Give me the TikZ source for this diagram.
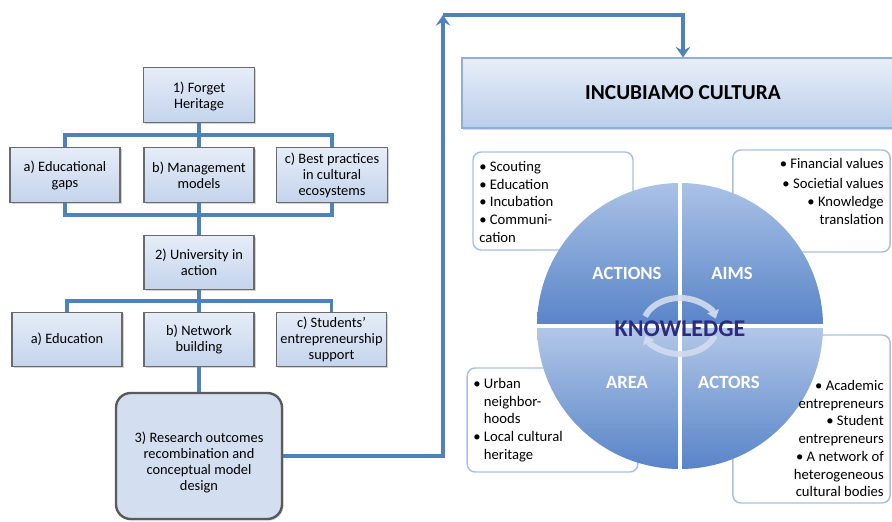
\documentclass[tikz,border=0pt]{standalone}
\usepackage{fontspec}
\setmainfont{Carlito}
\usetikzlibrary{shadows,arrows.meta}
\definecolor{conn}{HTML}{4F81BD}
\definecolor{boxtop}{HTML}{E6EDF8}
\definecolor{boxbot}{HTML}{C4D4EC}
\definecolor{boxborder}{HTML}{6A6A6A}
\definecolor{bigbox}{HTML}{D3DFF1}
\definecolor{inctop}{HTML}{E8EEF8}
\definecolor{incbot}{HTML}{BACEEA}
\definecolor{incborder}{HTML}{8FAEDA}
\definecolor{pietop}{HTML}{AAC2E6}
\definecolor{piebot}{HTML}{5884C8}
\definecolor{sideborder}{HTML}{A9C0E3}
\definecolor{knowcol}{HTML}{2E2B7F}
\definecolor{ringcol}{HTML}{D2DCEE}
\tikzset{
  conn/.style={draw=conn, line width=2.6pt},
  tipend/.style={-{Stealth[width=11pt,length=8pt,inset=3pt]}},
  fbox/.style={draw=boxborder, line width=0.9pt, top color=boxtop, bottom color=boxbot,
    align=center, inner sep=1pt, minimum width=82.5pt, minimum height=41.5pt,
    font=\fontsize{10.8}{12}\selectfont,
    drop shadow={shadow xshift=1.2pt,shadow yshift=-1.2pt,opacity=0.35}},
  sidebox/.style={draw=sideborder, line width=1.1pt, fill=white, rounded corners=6pt, inner sep=0pt},
  sidetext/.style={inner sep=0pt, font=\fontsize{11}{13.3}\selectfont},
  pielabel/.style={text=white, font=\fontsize{14}{16}\selectfont\bfseries, inner sep=0pt},
  ring/.style={draw=ringcol, line width=4.5pt, opacity=0.9, -{Triangle[width=9pt,length=6pt]}},
}
\begin{document}
\begin{tikzpicture}[x=0.75pt,y=-0.75pt]
\useasboundingbox (0,0) rectangle (892,521);

% ---------- left tree ----------
\node[fbox, minimum width=83pt, minimum height=41pt] (b1) at (199,95) {\rule{0pt}{10pt}1) Forget\\Heritage};
\node[fbox] (r1a) at (65,175) {a) Educational\\gaps};
\node[fbox] (r1b) at (199,175) {b) Management\\models};
\node[fbox, minimum width=83pt] (r1c) at (332,175) {c) Best practices\\in cultural\\ecosystems};
\node[fbox, minimum height=41pt] (b2) at (199,262.5) {2) University in\\action};
\node[fbox, minimum height=41pt] (r2a) at (67,339.5) {a) Education};
\node[fbox, minimum height=41pt] (r2b) at (199,339.5) {b) Network\\building};
\node[fbox, minimum width=83pt, minimum height=41pt] (r2c) at (331.5,339.5) {c) Students’\\entrepreneurship\\support};
\node[draw=boxborder!85!black, line width=1.8pt, fill=bigbox, rounded corners=11pt,
      minimum width=124.5pt, minimum height=94.5pt, align=center, inner sep=1pt,
      font=\fontsize{10.8}{12}\selectfont,
      drop shadow={shadow xshift=1.2pt,shadow yshift=-1.2pt,opacity=0.3}] (b3) at (199,456)
      {\rule{0pt}{17pt}3) Research outcomes\\recombination and\\conceptual model\\design};

\coordinate (j1) at (199,135);
\coordinate (j2) at (199,215);
\coordinate (j3) at (199,301);
\draw[conn] (b1.south) -- (j1);
\draw[conn] (r1a.north) |- (j1) -| (r1c.north);
\draw[conn] (j1) -- (r1b.north);
\draw[conn] (r1a.south) |- (j2) -| (r1c.south);
\draw[conn] (r1b.south) -- (b2.north);
\draw[conn] (b2.south) -- (r2b.north);
\draw[conn] (r2a.north) |- (j3) -| (r2c.north);
\draw[conn] (r2b.south) -- (b3.north);

% ---------- Incubiamo ----------
\node[draw=incborder, line width=0.8pt, top color=inctop, bottom color=incbot,
      minimum width=331.5pt, minimum height=52.5pt, inner sep=0pt,
      font=\fontsize{16}{18}\selectfont\bfseries,
      drop shadow={shadow xshift=1pt,shadow yshift=-1.2pt,opacity=0.3}] (inc) at (683,93) {INCUBIAMO CULTURA};

\coordinate (up) at (443,15);
\draw[conn, tipend] (b3.east) -| (up);
\draw[conn, tipend] (up) -| (inc.north);

% ---------- side boxes ----------
\node[sidebox, minimum width=120pt, minimum height=73.5pt] (actbox) at (553,201) {};
\node[sidebox, minimum width=118pt, minimum height=76.5pt] (aimbox) at (811.5,201) {};
\node[sidebox, minimum width=128pt, minimum height=78pt] (areabox) at (552.5,420) {};
\node[sidebox, minimum width=118pt, minimum height=126pt] (actorbox) at (811.5,419) {};

% ---------- pie ----------
\coordinate (C) at (680,326);
\shade[top color=pietop, bottom color=piebot] (C) -- ++(180:143) arc[start angle=180, end angle=270, radius=143] -- cycle;
\shade[top color=pietop, bottom color=piebot] (C) -- ++(270:143) arc[start angle=270, end angle=360, radius=143] -- cycle;
\shade[top color=pietop!90!white, bottom color=piebot] (C) -- ++(0:143) arc[start angle=0, end angle=90, radius=143] -- cycle;
\shade[top color=pietop!90!white, bottom color=piebot] (C) -- ++(90:143) arc[start angle=90, end angle=180, radius=143] -- cycle;
\draw[white, line width=3.5pt] (C) ++(-144,0) -- ++(288,0);
\draw[white, line width=3.5pt] (C) ++(0,-144) -- ++(0,288);

\draw[ring] (C) ++(200:37 and 28) arc[start angle=200, end angle=345, x radius=37, y radius=28];
\draw[ring] (C) ++(20:37 and 28) arc[start angle=20, end angle=160, x radius=37, y radius=28];

\node[pielabel] (lact) at (627,273) {ACTIONS};
\node[pielabel] (laim) at (732,273) {AIMS};
\node[pielabel] (lare) at (627,382) {AREA};
\node[pielabel] (lacr) at (729,382) {ACTORS};
\node[text=knowcol, inner sep=0pt, font=\fontsize{18}{20}\selectfont\bfseries] (know) at (680,329) {KNOWLEDGE};

% ---------- side texts ----------
\node[sidetext, anchor=north west, align=left] (acttext) at (479,161)
  {\textbullet\ Scouting\\ \textbullet\ Education\\ \textbullet\ Incubation\\ \textbullet\ Communi-\\ cation};
\node[sidetext, anchor=north east, align=right] (aimtext) at (884,158)
  {\textbullet\ Financial values\\[2pt] \textbullet\ Societial values\\ \textbullet\ Knowledge\\ translation};
\node[sidetext, anchor=north west, align=left] (areatext) at (473,378)
  {\textbullet\ Urban\\ \phantom{\textbullet\ }neighbor-\\ \phantom{\textbullet\ }hoods\\ \textbullet\ Local cultural\\ \phantom{\textbullet\ }heritage};
\node[sidetext, anchor=north east, align=right] (actortext) at (884,380)
  {\textbullet\ Academic\\ entrepreneurs\\ \textbullet\ Student\\ entrepreneurs\\ \textbullet\ A network of\\ heterogeneous\\ cultural bodies};
\end{tikzpicture}
\end{document}
